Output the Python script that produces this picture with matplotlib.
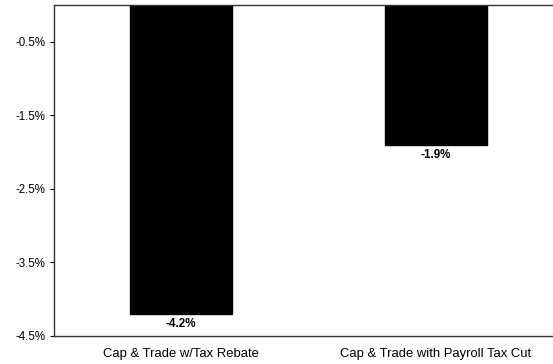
import matplotlib.pyplot as plt
from matplotlib.ticker import FuncFormatter

# data
categories = ["Cap & Trade w/Tax Rebate", "Cap & Trade with Payroll Tax Cut"]
values = [-4.2, -1.9]
yticks = [-0.5, -1.5, -2.5, -3.5, -4.5]

plt.rcParams['font.family'] = ['Liberation Sans', 'DejaVu Sans']

W, H = 553, 364
fig = plt.figure(figsize=(W / 100, H / 100), dpi=100)
ax = fig.add_axes([54 / W, 28 / H, (W - 54) / W, (336 - 5) / H])

x = list(range(len(categories)))
ax.bar(x, values, width=0.40, color='black', edgecolor='black')

ax.set_ylim(-4.5, 0)
ax.set_xlim(-0.498, 1.459)
ax.set_yticks(yticks)
ax.yaxis.set_major_formatter(FuncFormatter(lambda v, p: f"{v:.1f}%"))
ax.tick_params(axis='y', length=3, width=0.8, labelsize=8.3, pad=3)

ax.set_xticks(x)
ax.set_xticklabels(categories, fontsize=9.4)
ax.tick_params(axis='x', length=0, pad=9)

ax.spines['right'].set_visible(False)
for s in ['top', 'bottom', 'left']:
    ax.spines[s].set_linewidth(1.0)
    ax.spines[s].set_color('#333333')

for xi, v in zip(x, values):
    ax.text(xi, v - 0.06, f"{v:.1f}%", ha='center', va='top',
            fontsize=8.4, fontweight='bold')

fig.savefig("out.png", dpi=100)
